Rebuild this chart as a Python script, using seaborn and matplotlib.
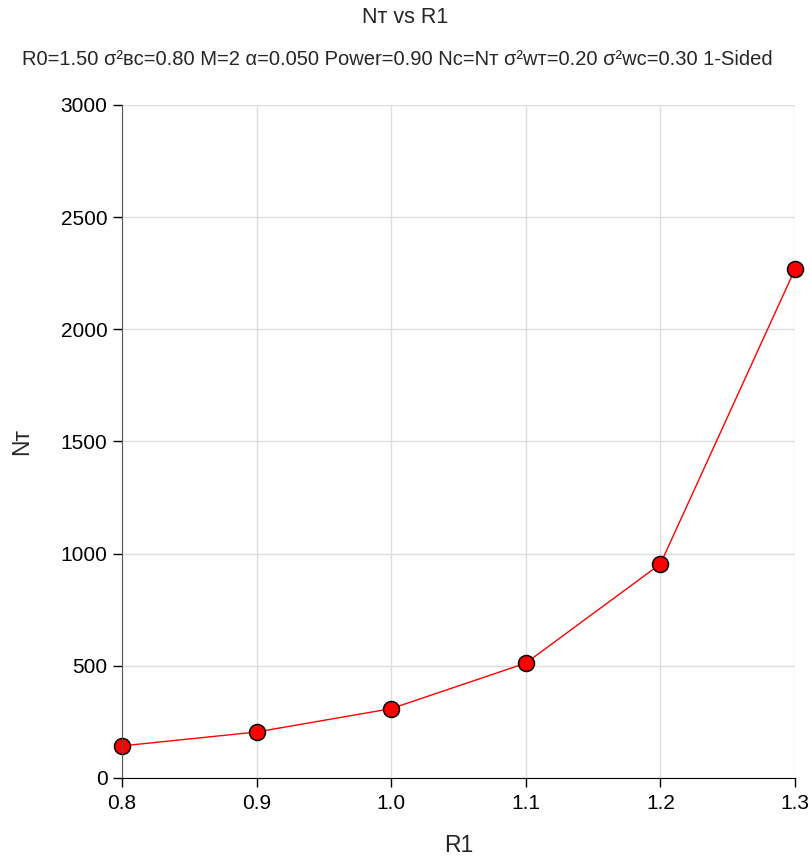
import matplotlib
matplotlib.use('Agg')
import matplotlib.pyplot as plt
import seaborn as sns

# data
r1 = [0.8, 0.9, 1.0, 1.1, 1.2, 1.3]
n_t = [143, 205, 309, 512, 954, 2268]

x_ticks = [0.8, 0.9, 1.0, 1.1, 1.2, 1.3]
y_ticks = [0, 500, 1000, 1500, 2000, 2500, 3000]

title = 'Nᴛ vs R1'
subtitle = ('R0=1.50 σ²ʙᴄ=0.80 M=2 α=0.050 Power=0.90 Nᴄ=Nᴛ '
            'σ²ᴡᴛ=0.20 σ²ᴡᴄ=0.30 1-Sided')

sns.set_style('whitegrid')
plt.rcParams['font.family'] = ['Liberation Sans', 'DejaVu Sans']

fig = plt.figure(figsize=(8.1, 8.57), dpi=100)
ax = fig.add_axes([0.1506, 0.0922, 0.8309, 0.7853])

sns.lineplot(x=r1, y=n_t, ax=ax, color='red', linewidth=1.0,
             marker='o', markersize=11.5, markerfacecolor='red',
             markeredgecolor='black', markeredgewidth=1.1, clip_on=False)

ax.set_xlim(0.8, 1.3)
ax.set_ylim(0, 3000)
ax.set_xticks(x_ticks)
ax.set_xticklabels([f'{v:.1f}' for v in x_ticks])
ax.set_yticks(y_ticks)

ax.grid(True, color='#dddddd', linewidth=1.0)
for side in ['top', 'right']:
    ax.spines[side].set_visible(False)
ax.spines['left'].set_color('#555555')
ax.spines['bottom'].set_color('black')
ax.tick_params(axis='both', which='major', direction='out', length=6.5,
               width=1, colors='black', labelsize=15, pad=4, left=True, bottom=True)
ax.tick_params(axis='x', pad=5)

ax.set_xlabel('R1', fontsize=16.5)
ax.set_ylabel('Nᴛ', fontsize=16.5)
ax.xaxis.set_label_coords(0.5, -0.1)
ax.xaxis.label.set_va('center')
ax.yaxis.set_label_coords(-0.149, 0.5)
ax.yaxis.label.set_va('center')

fig.text(0.5, 0.979, title, ha='center', va='center', fontsize=15.5)
fig.text(0.49, 0.930, subtitle, ha='center', va='center', fontsize=14.5)

fig.savefig('out.png', dpi=100)
